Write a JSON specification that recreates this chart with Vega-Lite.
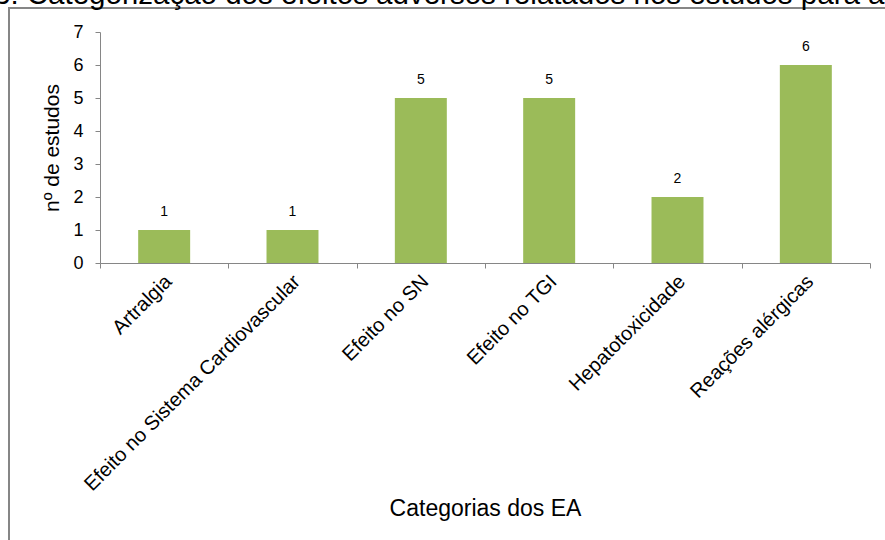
{
  "$schema": "https://vega.github.io/schema/vega-lite/v6.json",
  "autosize": "none",
  "padding": {"left": 9, "top": 8, "right": -30, "bottom": -28},
  "width": 906,
  "height": 560,
  "background": "white",
  "title": {
    "text": "3: Categorização dos efeitos adversos relatados nos estudos para a",
    "font": "Liberation Sans",
    "fontSize": 29.5,
    "fontWeight": "normal",
    "color": "#000000",
    "anchor": "start",
    "frame": "group",
    "baseline": "alphabetic",
    "offset": -25.5,
    "dx": -15
  },
  "config": {
    "view": {"stroke": "#868686", "strokeWidth": 2},
    "axis": {
      "labelFont": "Liberation Sans",
      "titleFont": "Liberation Sans",
      "labelColor": "#000000",
      "titleColor": "#000000",
      "titleFontWeight": "normal",
      "domainColor": "#868686",
      "tickColor": "#868686",
      "grid": false
    }
  },
  "data": {
    "values": [
      {"categoria": "Artralgia", "estudos": 1},
      {"categoria": "Efeito no Sistema Cardiovascular", "estudos": 1},
      {"categoria": "Efeito no SN", "estudos": 5},
      {"categoria": "Efeito no TGI", "estudos": 5},
      {"categoria": "Hepatotoxicidade", "estudos": 2},
      {"categoria": "Reações alérgicas", "estudos": 6}
    ]
  },
  "encoding": {
    "x": {
      "field": "categoria",
      "type": "nominal",
      "sort": null,
      "scale": {"range": [91, 861], "paddingInner": 0, "paddingOuter": 0},
      "axis": {
        "title": "Categorias dos EA",
        "offset": -305,
        "tickBand": "extent",
        "tickSize": 5,
        "labelAngle": -45,
        "labelFontSize": 20,
        "labelPadding": 3,
        "labelOffset": -3,
        "labelLimit": 400,
        "titleFontSize": 23,
        "titlePadding": 34
      }
    },
    "y": {
      "field": "estudos",
      "type": "quantitative",
      "scale": {"domain": [0, 7], "range": [255, 24], "nice": false},
      "axis": {
        "title": "nº de estudos",
        "offset": -91,
        "values": [0, 1, 2, 3, 4, 5, 6, 7],
        "tickSize": 5,
        "labelFontSize": 18,
        "labelPadding": 12,
        "titleFontSize": 21,
        "titlePadding": 10
      }
    }
  },
  "layer": [
    {
      "mark": {"type": "bar", "color": "#9BBB59", "width": {"band": 0.405}}
    },
    {
      "mark": {
        "type": "text",
        "baseline": "bottom",
        "dy": -11,
        "font": "Liberation Sans",
        "fontSize": 14,
        "color": "#000000"
      },
      "encoding": {"text": {"field": "estudos", "type": "quantitative"}}
    }
  ]
}
